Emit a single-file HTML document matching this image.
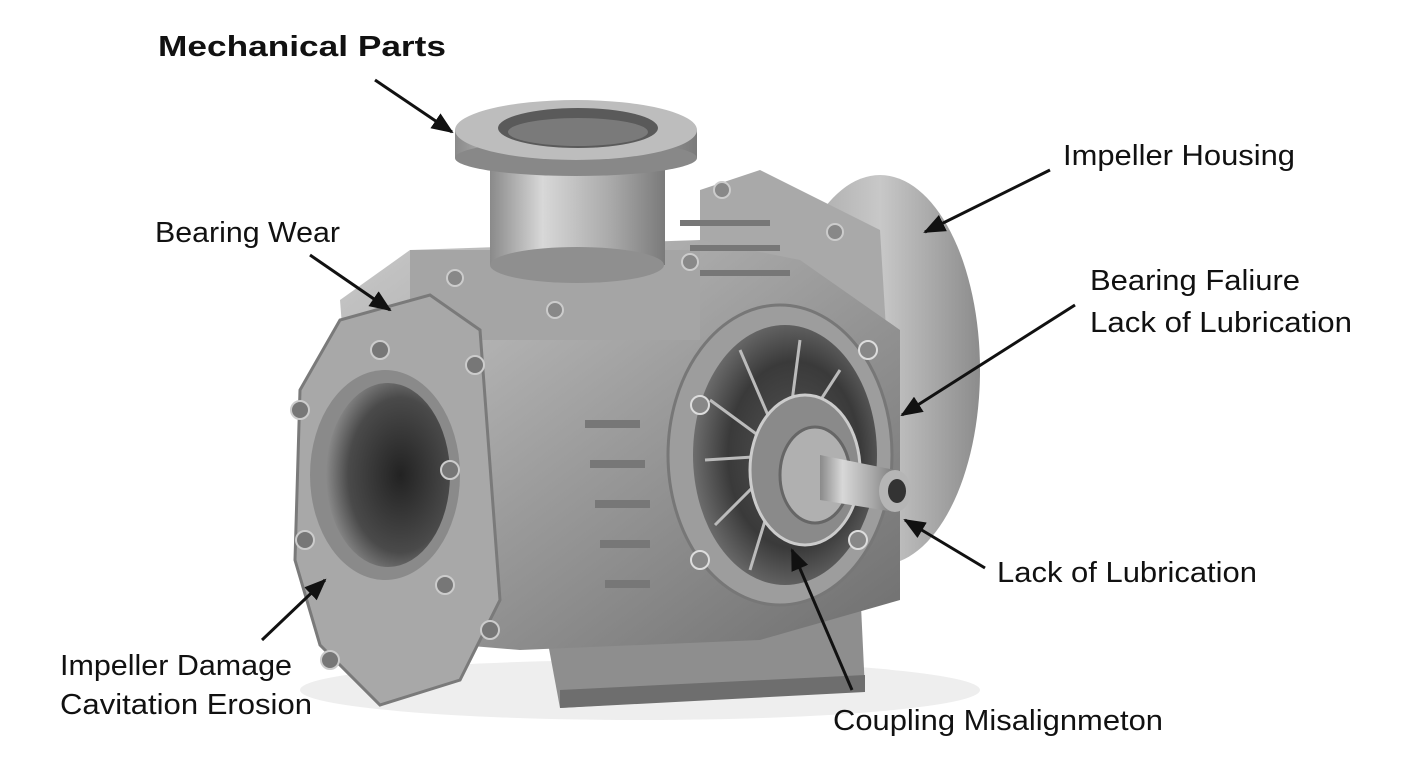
<!DOCTYPE html>
<html><head><meta charset="utf-8"><style>
html,body{margin:0;padding:0;background:#fff;}
svg{display:block;}
text{font-family:"Liberation Sans",sans-serif;fill:#111;}
</style></head><body>
<svg width="1408" height="768" viewBox="0 0 1408 768">
<defs>
<linearGradient id="body" x1="0" y1="0" x2="1" y2="1">
<stop offset="0" stop-color="#c9c9c9"/><stop offset="0.5" stop-color="#9a9a9a"/><stop offset="1" stop-color="#6e6e6e"/></linearGradient>
<linearGradient id="pipe" x1="0" y1="0" x2="1" y2="0">
<stop offset="0" stop-color="#8a8a8a"/><stop offset="0.3" stop-color="#d8d8d8"/><stop offset="0.7" stop-color="#a8a8a8"/><stop offset="1" stop-color="#7a7a7a"/></linearGradient>
<linearGradient id="disc" x1="0" y1="0" x2="1" y2="0">
<stop offset="0" stop-color="#a0a0a0"/><stop offset="0.5" stop-color="#c8c8c8"/><stop offset="1" stop-color="#8c8c8c"/></linearGradient>
<radialGradient id="hole" cx="0.6" cy="0.5" r="0.6">
<stop offset="0" stop-color="#222"/><stop offset="0.7" stop-color="#4a4a4a"/><stop offset="1" stop-color="#8a8a8a"/></radialGradient>
<radialGradient id="imp" cx="0.55" cy="0.5" r="0.6">
<stop offset="0" stop-color="#555"/><stop offset="0.6" stop-color="#3a3a3a"/><stop offset="1" stop-color="#7a7a7a"/></radialGradient>
<marker id="ah" markerWidth="22" markerHeight="18" refX="20" refY="9" orient="auto" markerUnits="userSpaceOnUse" viewBox="0 0 22 18">
<path d="M0,0 L22,9 L0,18 z" fill="#111"/></marker>
</defs>

<ellipse cx="640" cy="690" rx="340" ry="30" fill="#eee"/>
<ellipse cx="880" cy="370" rx="100" ry="195" fill="url(#disc)"/>
<path d="M700,190 L760,170 L880,230 L900,560 L700,560 z" fill="#a9a9a9"/>
<polygon points="540,600 860,585 865,690 560,708" fill="#8e8e8e"/>
<polygon points="560,690 865,675 865,692 560,708" fill="#6e6e6e"/>
<path d="M340,300 L410,250 L700,240 L800,260 L900,330 L900,600 L760,640 L520,650 L400,640 L360,560 z" fill="url(#body)"/>
<rect x="410" y="250" width="290" height="90" fill="#a5a5a5"/>
<g fill="#777">
<rect x="585" y="420" width="55" height="8"/><rect x="590" y="460" width="55" height="8"/>
<rect x="595" y="500" width="55" height="8"/><rect x="600" y="540" width="50" height="8"/>
<rect x="605" y="580" width="45" height="8"/>
<rect x="680" y="220" width="90" height="6"/><rect x="690" y="245" width="90" height="6"/><rect x="700" y="270" width="90" height="6"/>
</g>
<polygon points="300,390 340,320 430,295 480,330 500,600 460,680 380,705 320,645 295,560" fill="#a8a8a8" stroke="#7a7a7a" stroke-width="3"/>
<ellipse cx="385" cy="475" rx="75" ry="105" fill="#8a8a8a"/>
<ellipse cx="388" cy="475" rx="62" ry="92" fill="url(#hole)"/>
<g fill="#777" stroke="#ccc" stroke-width="2">
<circle cx="300" cy="410" r="9"/><circle cx="305" cy="540" r="9"/><circle cx="330" cy="660" r="9"/>
<circle cx="450" cy="470" r="9"/><circle cx="445" cy="585" r="9"/><circle cx="380" cy="350" r="9"/>
<circle cx="475" cy="365" r="9"/><circle cx="490" cy="630" r="9"/>
</g>
<rect x="490" y="150" width="175" height="115" fill="url(#pipe)"/>
<ellipse cx="577" cy="265" rx="87" ry="18" fill="#8f8f8f"/>
<rect x="455" y="130" width="242" height="28" fill="url(#pipe)"/>
<ellipse cx="576" cy="158" rx="121" ry="18" fill="#888"/>
<ellipse cx="576" cy="130" rx="121" ry="30" fill="#bdbdbd"/>
<ellipse cx="578" cy="128" rx="80" ry="20" fill="#5a5a5a"/>
<ellipse cx="578" cy="132" rx="70" ry="14" fill="#7a7a7a"/>
<g fill="#888" stroke="#ccc" stroke-width="2">
<circle cx="455" cy="278" r="8"/><circle cx="690" cy="262" r="8"/><circle cx="555" cy="310" r="8"/>
<circle cx="835" cy="232" r="8"/><circle cx="722" cy="190" r="8"/>
</g>
<ellipse cx="780" cy="455" rx="112" ry="150" fill="#9d9d9d" stroke="#777" stroke-width="3"/>
<ellipse cx="785" cy="455" rx="92" ry="130" fill="url(#imp)"/>
<g stroke="#bbb" stroke-width="3">
<line x1="785" y1="455" x2="740" y2="350"/><line x1="785" y1="455" x2="710" y2="400"/>
<line x1="785" y1="455" x2="705" y2="460"/><line x1="785" y1="455" x2="715" y2="525"/>
<line x1="785" y1="455" x2="750" y2="570"/><line x1="785" y1="455" x2="800" y2="340"/>
<line x1="785" y1="455" x2="840" y2="370"/>
</g>
<ellipse cx="805" cy="470" rx="55" ry="75" fill="#8a8a8a" stroke="#ccc" stroke-width="3"/>
<ellipse cx="815" cy="475" rx="35" ry="48" fill="#b0b0b0" stroke="#666" stroke-width="3"/>
<g fill="#888" stroke="#ddd" stroke-width="2">
<circle cx="700" cy="405" r="9"/><circle cx="868" cy="350" r="9"/><circle cx="700" cy="560" r="9"/><circle cx="858" cy="540" r="9"/>
</g>
<polygon points="820,455 895,470 895,512 820,500" fill="url(#pipe)"/>
<ellipse cx="895" cy="491" rx="16" ry="21" fill="#b5b5b5"/>
<ellipse cx="897" cy="491" rx="9" ry="12" fill="#333"/>

<g font-size="29">
<text x="158" y="56" font-weight="bold" textLength="288" lengthAdjust="spacingAndGlyphs">Mechanical Parts</text>
<text x="1063" y="165" textLength="232" lengthAdjust="spacingAndGlyphs">Impeller Housing</text>
<text x="155" y="242" textLength="185" lengthAdjust="spacingAndGlyphs">Bearing Wear</text>
<text x="1090" y="290" textLength="210" lengthAdjust="spacingAndGlyphs">Bearing Faliure</text>
<text x="1090" y="332" textLength="262" lengthAdjust="spacingAndGlyphs">Lack of Lubrication</text>
<text x="997" y="582" textLength="260" lengthAdjust="spacingAndGlyphs">Lack of Lubrication</text>
<text x="60" y="675" textLength="232" lengthAdjust="spacingAndGlyphs">Impeller Damage</text>
<text x="60" y="714" textLength="252" lengthAdjust="spacingAndGlyphs">Cavitation Erosion</text>
<text x="833" y="730" textLength="330" lengthAdjust="spacingAndGlyphs">Coupling Misalignmeton</text>
</g>

<g stroke="#111" stroke-width="3" fill="none">
<line x1="375" y1="80" x2="452" y2="132" marker-end="url(#ah)"/>
<line x1="1050" y1="170" x2="925" y2="232" marker-end="url(#ah)"/>
<line x1="310" y1="255" x2="390" y2="310" marker-end="url(#ah)"/>
<line x1="1075" y1="305" x2="902" y2="415" marker-end="url(#ah)"/>
<line x1="985" y1="568" x2="905" y2="520" marker-end="url(#ah)"/>
<line x1="262" y1="640" x2="325" y2="580" marker-end="url(#ah)"/>
<line x1="852" y1="690" x2="792" y2="550" marker-end="url(#ah)"/>
</g>
</svg>
</body></html>
